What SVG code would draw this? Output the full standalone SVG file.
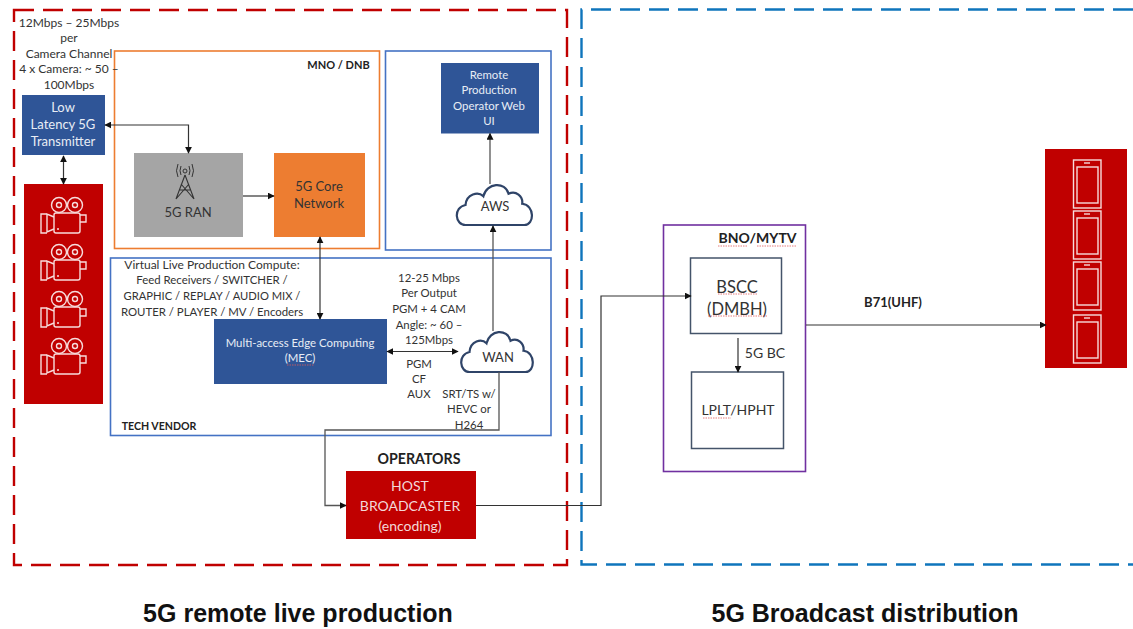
<svg xmlns="http://www.w3.org/2000/svg" width="1133" height="629" viewBox="0 0 1133 629">
<style>
text{font-family:Lato,"Open Sans","Liberation Sans",sans-serif;font-size:11.400px;fill:#333;text-anchor:middle}
.n{font-size:12px}
.w{fill:#e8edf5}
.b{font-weight:700;fill:#222}
.ln{fill:none;stroke:#333;stroke-width:1.2}
.gl{fill:none;stroke:#555;stroke-width:1.6}
.sp{fill:none;stroke:#e05a5a;stroke-width:.8;stroke-dasharray:1.5 1}
.cl{fill:#fff;stroke:#2f4468;stroke-width:2.2;vector-effect:non-scaling-stroke}
.ic{fill:none;stroke:#f7dcdc;stroke-width:1.4}
.f{fill:#2f5597}
.r{fill:#c00000}
</style>
<defs>
<marker id="a" viewBox="0 0 10 10" refX="9" refY="5" markerWidth="7" markerHeight="7" orient="auto-start-reverse" markerUnits="userSpaceOnUse"><path d="M0 0L10 5L0 10z" fill="#111"/></marker>
<g id="cam">
<circle cx="59" cy="0" r="7.5" class="ic"/><circle cx="75" cy="0" r="7.500" class="ic"/>
<circle cx="59" cy="0" r="2.5" class="ic"/><circle cx="75" cy="0" r="2.5" class="ic"/>
<rect x="54" y="8" width="26" height="20" rx="2" class="ic"/>
<path d="M54 12L47 9V27L54 24M47 9H41V28H47M80 10H86V17H80" class="ic"/>
<circle cx="58" cy="24" r="1" fill="#f7dcdc"/>
</g>
<g id="ph">
<rect x="1073.500" y="0" width="27.500" height="48" class="ic"/>
<rect x="1077" y="7" width="21" height="36" class="ic"/>
<path d="M1084 3H1090" class="ic"/>
</g>
<path id="cloud" d="M-30 24C-40 24-42 10-30 8C-29-1-18-3-13 1C-10-10 8-11 11-1C18-4 25 1 24 7C36 8 36 24 26 24z" class="cl"/>
</defs>

<g id="frames" fill="none">
<rect x="14" y="10" width="553" height="555" stroke="#c00000" stroke-width="2.4" stroke-dasharray="20 9"/>
<path d="M1133 9.500H581.500V564.500H1133" stroke="#0f75bc" stroke-width="2.4" stroke-dasharray="20 9"/>
</g>

<g id="mno"><rect x="114.500" y="51" width="265" height="197.500" fill="none" stroke="#ed7d31" stroke-width="1.6"/><text class="b" x="338.500" y="69" style="font-size:11px">MNO / DNB</text></g>
<g id="aws-box"><rect x="385.500" y="51" width="165.500" height="199" fill="none" stroke="#4472c4" stroke-width="1.6"/></g>
<g id="tech"><rect x="110.500" y="258" width="440.500" height="177.500" fill="none" stroke="#4472c4" stroke-width="1.6"/><text class="b" x="159" y="430" style="font-size:10.600px">TECH VENDOR</text></g>
<g id="bno"><rect x="663.500" y="225" width="142" height="246.500" fill="none" stroke="#7030a0" stroke-width="1.6"/><text class="b" style="font-size:14px" x="757.500" y="243">BNO/MYTV</text><path class="sp" d="M718 246H747M757 246H797"/></g>

<g id="note-cam">
<text class="n" x="69" y="27">12Mbps – 25Mbps</text>
<text class="n" x="69" y="42">per</text>
<text class="n" x="69" y="57.500">Camera Channel</text>
<text class="n" x="69" y="73">4 x Camera: ~ 50 –</text>
<text class="n" x="69" y="88.500">100Mbps</text>
</g>
<g id="tx"><rect x="22" y="95" width="83" height="60" class="f"/>
<text class="w" x="63" y="112" style="font-size:13px">Low</text><text class="w" x="63" y="129" style="font-size:13px">Latency 5G</text><text class="w" x="63" y="146" style="font-size:13px">Transmitter</text></g>

<g id="cameras"><rect x="24" y="184" width="79" height="220" class="r"/>
<use href="#cam" y="205"/><use href="#cam" y="252"/><use href="#cam" y="299"/><use href="#cam" y="346"/></g>

<g id="ran"><rect x="134" y="153" width="109" height="84" fill="#a5a5a5"/>
<path class="gl" style="stroke:#333;stroke-width:1.100" d="M185 175L176 199M185 175L194 199M179 190H191M181 184L194 199M189 184L176 199"/>
<circle cx="185" cy="171" r="2" class="gl" style="stroke:#333;stroke-width:1"/>
<path class="gl" style="stroke:#333;stroke-width:1" d="M181 166Q179 171 181 175M189 166Q191 171 189 175M178 164Q175 171 178 177M192 164Q195 171 192 177"/>
<text x="188" y="217" style="font-size:13px">5G RAN</text></g>
<g id="core"><rect x="274" y="153" width="91" height="84" fill="#ed7d31"/>
<text x="319" y="191" style="font-size:13px">5G Core</text><text x="319" y="208" style="font-size:13px">Network</text></g>

<g id="webui"><rect x="441" y="63" width="98" height="70.500" class="f"/>
<text class="w" x="489" y="79">Remote</text><text class="w" x="489" y="94">Production</text><text class="w" x="489" y="109.500">Operator Web</text><text class="w" x="489" y="124.500">UI</text></g>
<g id="aws"><use href="#cloud" transform="translate(497 195) scale(1.05 1.25)"/><text x="495" y="211" style="font-size:13px">AWS</text></g>

<g id="note-vlp">
<text class="n" x="212" y="269">Virtual Live Production Compute:</text>
<text x="212" y="284">Feed Receivers / SWITCHER /</text>
<text style="font-size:11.200px" x="212" y="300">GRAPHIC / REPLAY / AUDIO MIX /</text>
<text x="212" y="316">ROUTER / PLAYER / MV / Encoders</text>
</g>
<g id="mec"><rect x="214" y="319" width="173" height="65" class="f"/>
<text class="w" x="300" y="347">Multi-access Edge Computing</text><text class="w" x="300" y="362">(MEC)</text><path class="sp" d="M287 365H314"/></g>
<g id="note-out">
<text x="429" y="282">12-25 Mbps</text><text x="429" y="297">Per Output</text><text x="429" y="313">PGM + 4 CAM</text><text x="429" y="329">Angle: ~ 60 –</text><text x="429" y="344">125Mbps</text>
<text x="419" y="368">PGM</text><text x="419" y="383">CF</text><text x="419" y="398">AUX</text>
<text x="469" y="398">SRT/TS w/</text><text x="469" y="413">HEVC or</text><text x="469" y="429">H264</text>
</g>
<g id="wan"><use href="#cloud" transform="translate(499.500 342) scale(1 1.25)"/><text x="498" y="362" style="font-size:13px">WAN</text></g>

<g id="host"><text class="b" x="419" y="464" style="font-size:14.200px">OPERATORS</text>
<rect x="346" y="471" width="130" height="68" class="r"/>
<text x="410" y="491" style="font-size:14px;fill:#f3d9d9">HOST</text><text x="410" y="511" style="font-size:14px;fill:#f3d9d9">BROADCASTER</text><text x="410" y="531" style="font-size:14px;fill:#f3d9d9">(encoding)</text></g>

<g id="bscc"><rect x="690.500" y="258" width="91" height="75.500" fill="#fff" stroke="#44546a" stroke-width="1.500"/>
<text x="737" y="293" style="font-size:16.500px">BSCC</text><text x="737" y="315" style="font-size:16.500px">(DMBH)</text><path class="sp" d="M718 294H757M708 316H767"/></g>
<g id="lplt"><rect x="691.500" y="372" width="92" height="76.500" fill="#fff" stroke="#44546a" stroke-width="1.500"/>
<text x="738" y="415" style="font-size:14px">LPLT/HPHT</text><path class="sp" d="M703 418H731"/></g>
<g id="note-bc"><text x="765" y="358" style="font-size:14px">5G BC</text></g>
<g id="note-b71"><text class="b" x="893" y="307" style="font-size:13px">B71(UHF)</text></g>

<g id="phones"><rect x="1045" y="149" width="82" height="219" class="r"/>
<use href="#ph" y="160"/><use href="#ph" y="211"/><use href="#ph" y="262"/><use href="#ph" y="315"/></g>

<g id="captions"><text class="b" x="298" y="622" style="font-size:25px;font-family:'Liberation Sans',sans-serif;fill:#111">5G remote live production</text>
<text class="b" x="865" y="622" style="font-size:25px;font-family:'Liberation Sans',sans-serif;fill:#111">5G Broadcast distribution</text></g>

<g id="connectors">
<path class="ln" marker-start="url(#a)" marker-end="url(#a)" d="M105 125H188.500V153"/>
<path class="ln" marker-start="url(#a)" marker-end="url(#a)" d="M63.500 156V184"/>
<path class="ln" marker-end="url(#a)" d="M243 196H274"/>
<path class="ln" marker-start="url(#a)" marker-end="url(#a)" d="M320 237V319"/>
<path class="ln" marker-start="url(#a)" marker-end="url(#a)" d="M387 351.500H458"/>
<path class="gl" style="stroke-width:1.300" marker-end="url(#a)" d="M493 331V226"/>
<path class="gl" style="stroke-width:1.300" marker-end="url(#a)" d="M490 184V133.500"/>
<path class="gl" style="stroke-width:1.300" marker-end="url(#a)" d="M499 372V430H325V505.500H346"/>
<path class="ln" marker-end="url(#a)" d="M476 505.500H601V296H691"/>
<path class="ln" marker-end="url(#a)" d="M738 338V372"/>
<path class="ln" marker-end="url(#a)" d="M806 325H1046"/>
</g>
</svg>
